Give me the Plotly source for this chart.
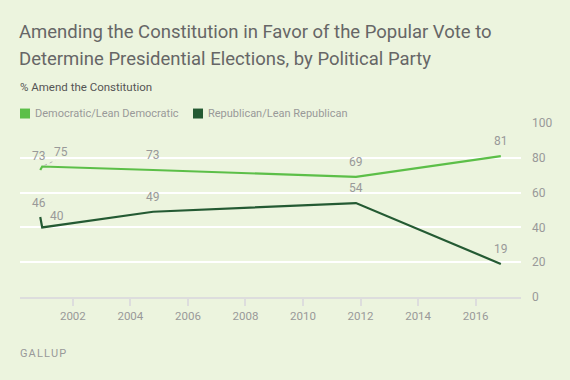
import plotly.graph_objects as go

dates = ["2000-11-13", "2000-12-08", "2004-10-16", "2011-11-04", "2016-11-16"]
dem = [73, 75, 73, 69, 81]
rep = [46, 40, 49, 54, 19]
dem_name = "Democratic/Lean Democratic"
rep_name = "Republican/Lean Republican"
tick_years = ["2002", "2004", "2006", "2008", "2010", "2012", "2014", "2016"]
y_ticks = [0, 20, 40, 60, 80, 100]
title_lines = ["Amending the Constitution in Favor of the Popular Vote to",
               "Determine Presidential Elections, by Political Party"]

DEM_C = "#5cbf48"
REP_C = "#245a33"
BG = "#ecf4de"
GRAY = "#999999"
FONT = "Roboto, Arial, sans-serif"

W_PLOT = 501
H_PLOT = 174.6
T = 123

fig = go.Figure()
fig.add_trace(go.Scatter(x=dates, y=dem, mode="lines", line=dict(color=DEM_C, width=2.2),
                         name=dem_name, showlegend=False, hoverinfo="skip"))
fig.add_trace(go.Scatter(x=dates, y=rep, mode="lines", line=dict(color=REP_C, width=2.2),
                         name=rep_name, showlegend=False, hoverinfo="skip"))

def lab(x, y, xs=0, ys=15):
    fig.add_annotation(x=x, y=y, text=str(y), showarrow=False, xshift=xs, yshift=ys,
                       font=dict(family=FONT, size=12, color=GRAY))

lab(dates[0], dem[0], -1, 14)
lab(dates[1], dem[1], 19, 15)
for i in (2, 3, 4):
    lab(dates[i], dem[i])
lab(dates[0], rep[0], -1, 14)
lab(dates[1], rep[1], 15, 11)
for i in (2, 3, 4):
    lab(dates[i], rep[i])

fig.add_shape(type="line", xref="x", yref="y", xsizemode="pixel", ysizemode="pixel",
              xanchor=dates[1], yanchor=dem[1], x0=2, y0=1, x1=13, y1=6,
              line=dict(color="#b5b5b5", width=1, dash="dot"))

fig.update_layout(
    width=570, height=380,
    paper_bgcolor=BG, plot_bgcolor=BG,
    margin=dict(l=20, r=49, t=T, b=83),
    showlegend=False,
    xaxis=dict(type="date", range=["2000-03-01", "2017-07-30"],
               tickvals=[y + "-01-01" for y in tick_years], ticktext=tick_years,
               showgrid=False, showline=True, linecolor="#dddddd", linewidth=2,
               ticks="outside", ticklen=7, tickwidth=2, tickcolor="#dddddd",
               tickfont=dict(family=FONT, size=11.5, color=GRAY), zeroline=False),
    yaxis=dict(range=[0, 100], side="right", tickvals=y_ticks,
               showgrid=True, gridcolor="#ffffff", gridwidth=2, zeroline=False,
               ticks="", ticklabelstandoff=10,
               tickfont=dict(family=FONT, size=12, color=GRAY)),
)

def py(px):
    return 1 + (T - px) / H_PLOT

for line, cy in zip(title_lines, (31.5, 58.7)):
    fig.add_annotation(xref="paper", yref="paper", x=-3 / W_PLOT, y=py(cy),
                       xanchor="left", yanchor="middle", showarrow=False, align="left",
                       text=line, font=dict(family=FONT, size=18.5, color="#666666"))
fig.add_annotation(xref="paper", yref="paper", x=-2 / W_PLOT, y=py(86.5),
                   xanchor="left", yanchor="middle", showarrow=False,
                   text="% Amend the Constitution",
                   font=dict(family=FONT, size=11.5, color="#555555"))
for lx, col, name in ((20, DEM_C, dem_name), (193, REP_C, rep_name)):
    fig.add_shape(type="rect", xref="paper", yref="paper",
                  x0=(lx - 20) / W_PLOT, x1=(lx - 20 + 10) / W_PLOT,
                  y0=py(118.5), y1=py(108.5),
                  line=dict(width=0), fillcolor=col)
    fig.add_annotation(xref="paper", yref="paper", x=(lx - 20 + 13) / W_PLOT,
                       y=py(113.5), xanchor="left", yanchor="middle",
                       showarrow=False, text=name,
                       font=dict(family=FONT, size=11, color=GRAY))
fig.add_annotation(xref="paper", yref="paper", x=-2 / W_PLOT, y=py(354.5),
                   xanchor="left", yanchor="middle", showarrow=False,
                   text="\u200a".join("GALLUP"),
                   font=dict(family=FONT, size=11, color=GRAY))

fig.write_html("out.html", config={"displayModeBar": False},
               post_script="document.body.style.margin='0';document.body.style.background='%s';" % BG)
